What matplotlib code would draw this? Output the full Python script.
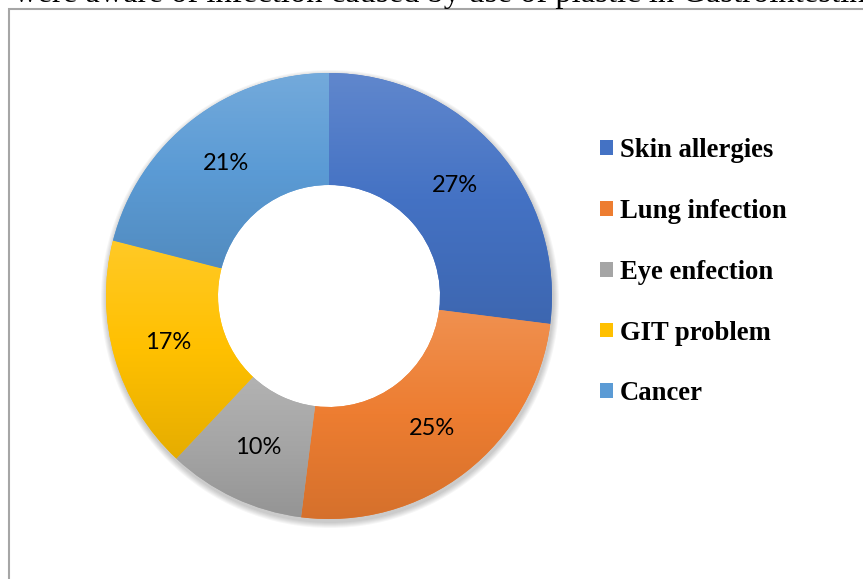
import numpy as np
import matplotlib.pyplot as plt
from matplotlib.colors import LinearSegmentedColormap, to_rgb
from matplotlib.patches import Wedge

# Data
labels = ['Skin allergies', 'Lung infection', 'Eye enfection', 'GIT problem', 'Cancer']
values = [27, 25, 10, 17, 21]
colors = ['#4472C4', '#ED7D31', '#A5A5A5', '#FFC000', '#5B9BD5']
caption = 'were aware of infection caused by use of plastic in Gastrointestinal'

W, H = 863, 579
cx, cy, R, ring = 329, H - 296, 223, 112

fig = plt.figure(figsize=(W / 100, H / 100), dpi=100)
ax = fig.add_axes([0, 0, 1, 1])

# soft shadow under the ring (outer side only)
for i in range(6):
    ax.add_patch(Wedge((cx + 1, cy - 3), R + 1 + i, 0, 360, width=ring - 6 + i,
                       facecolor='black', edgecolor='none', alpha=0.035, zorder=0.5))

wedges, texts, autotexts = ax.pie(
    values, colors=colors, center=(cx, cy), radius=R,
    startangle=90, counterclock=False,
    wedgeprops=dict(width=ring, edgecolor='none'),
    autopct=lambda p: f'{p:.0f}%', pctdistance=0.75,
    textprops=dict(family='Lato', fontsize=17, color='black'))

# vertical gradient fill inside each slice (lighter top, darker bottom)
grad = np.linspace(0, 1, 256).reshape(-1, 1)
for w, c in zip(wedges, colors):
    base = np.array(to_rgb(c))
    top = base + (1 - base) * 0.15
    bottom = base * 0.90
    cmap = LinearSegmentedColormap.from_list('g', [top, base, bottom])
    ext = w.get_path().get_extents()
    im = ax.imshow(grad, cmap=cmap, extent=[ext.x0, ext.x1, ext.y0, ext.y1],
                   origin='upper', aspect='auto', zorder=2, interpolation='bilinear')
    im.set_clip_path(w)
for t in autotexts:
    t.set_zorder(4)

ax.set_xlim(0, W)
ax.set_ylim(0, H)
ax.set_aspect('equal')
ax.axis('off')

# frame of the chart area
ax.plot([8.5, 8.5, W], [0, H - 8.5, H - 8.5], color='#A6A6A6', lw=1.5,
        solid_joinstyle='miter')

# cropped caption text at the top
ax.text(14, H - 2, caption, family='Liberation Serif', fontsize=23.5,
        va='baseline', ha='left')

leg = ax.legend(wedges, labels, loc='upper left', bbox_to_anchor=(587, H - 125),
                bbox_transform=ax.transData, frameon=False, borderpad=0,
                handlelength=0.48, handleheight=0.48, handletextpad=0.25,
                labelspacing=1.34,
                prop=dict(family='Liberation Serif', weight='bold', size=19.2))

fig.savefig('out.png', dpi=100)
